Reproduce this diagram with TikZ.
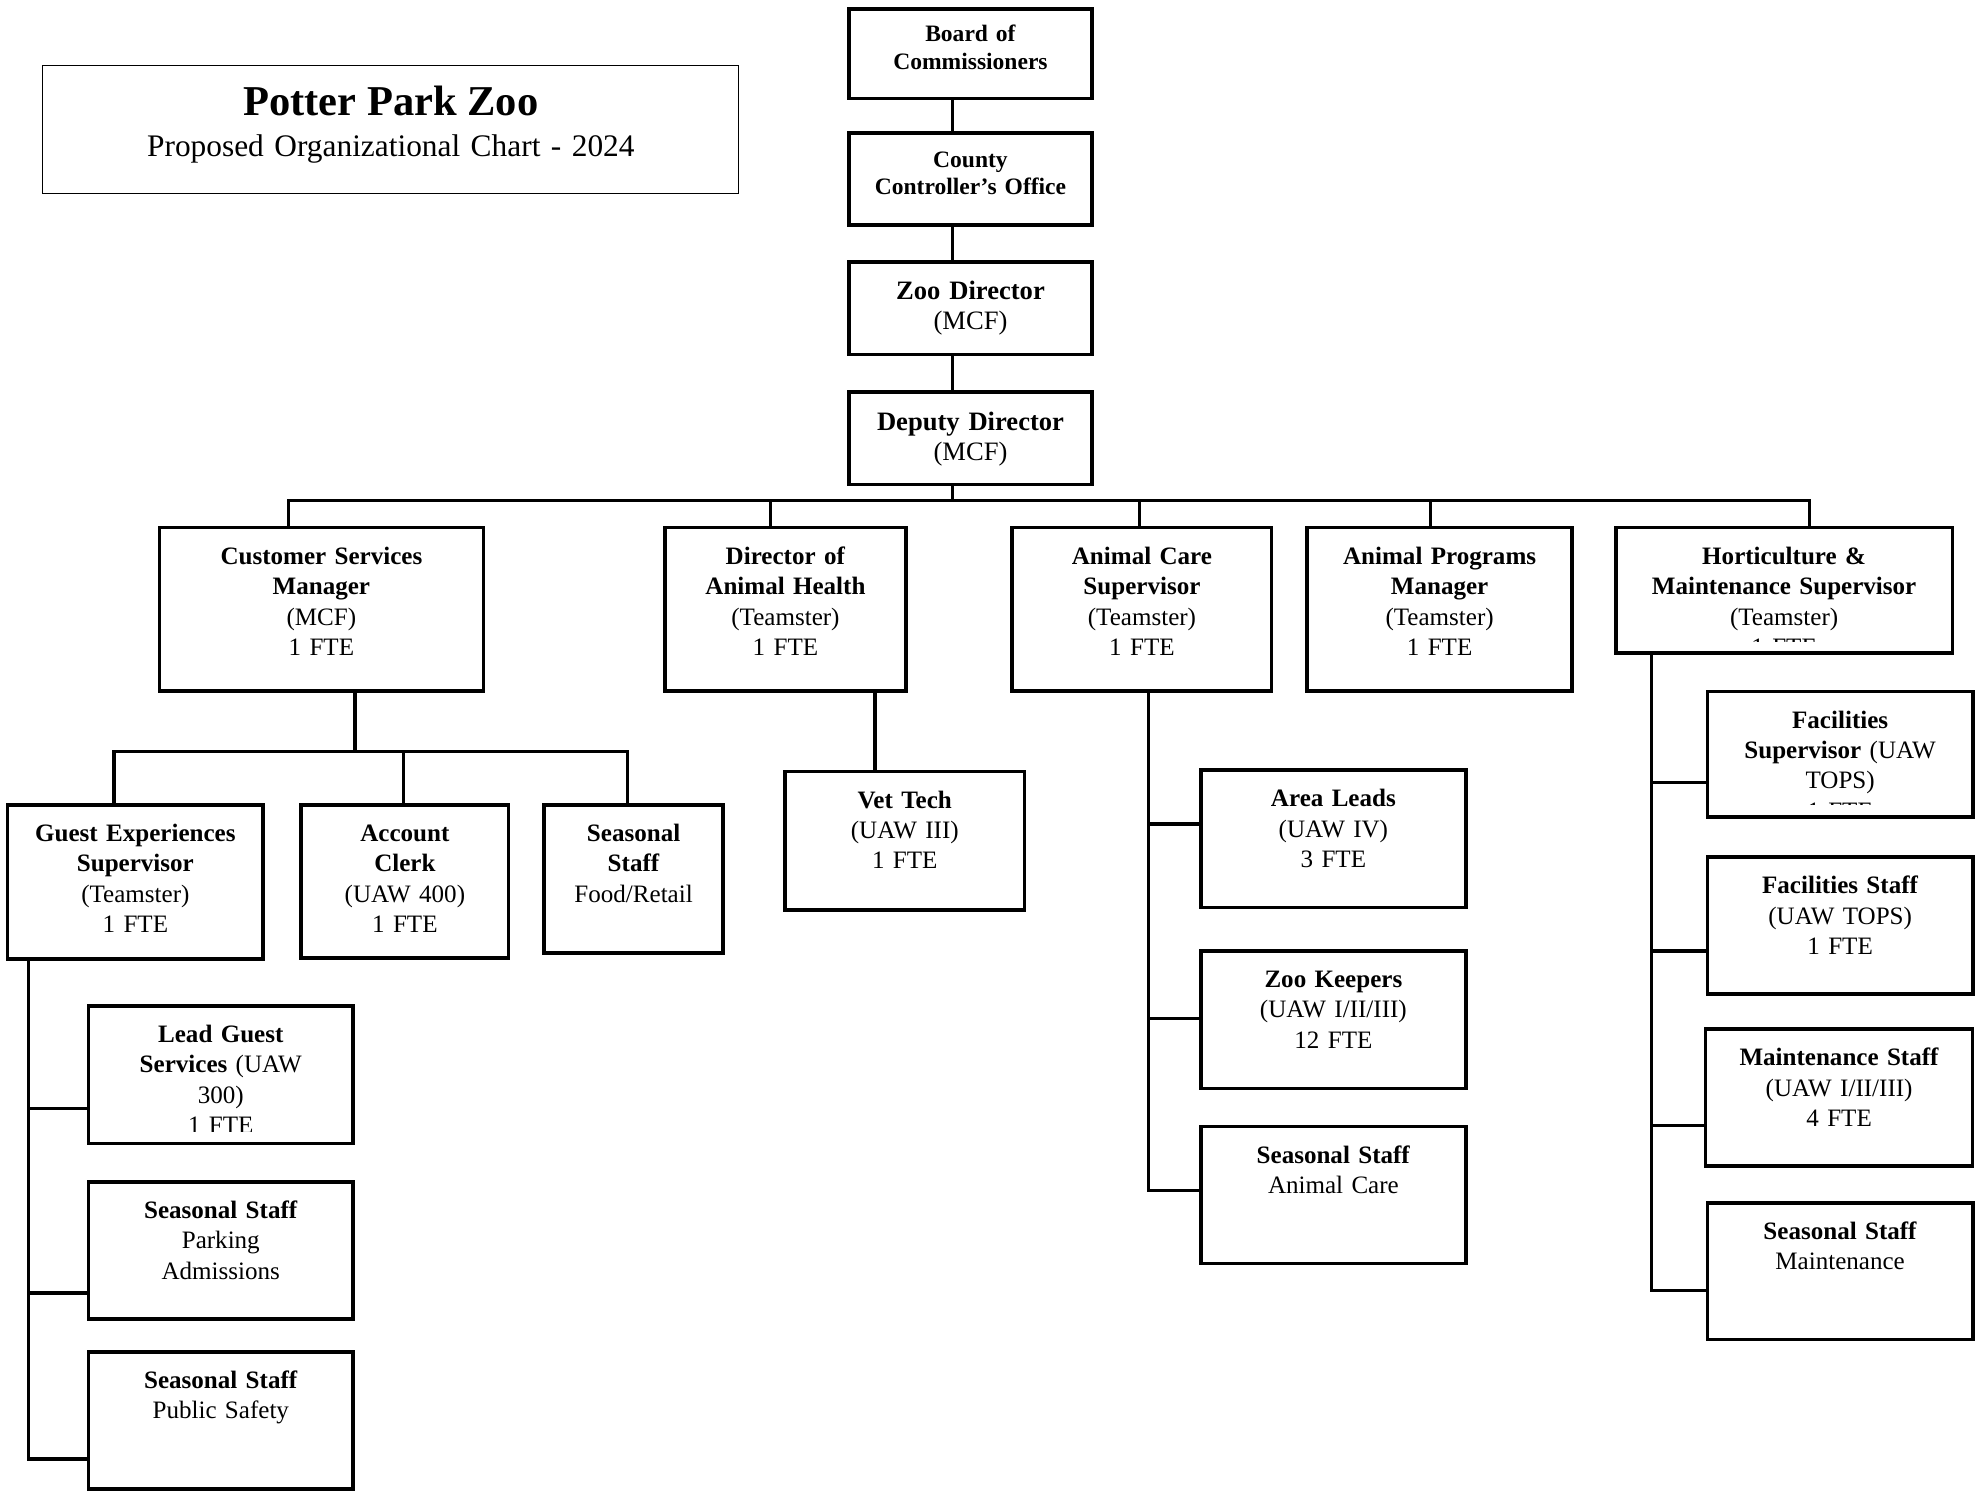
\documentclass[tikz,border=0pt]{standalone}
\usepackage{fontspec}
\setmainfont{Liberation Serif}
\usetikzlibrary{positioning}
\newcommand{\orgfont}{\fontsize{9.9}{12}\selectfont}
\newcommand{\topfont}{\fontsize{9.3}{11}\selectfont}
\newcommand{\dirfont}{\fontsize{10.5}{11.8}\selectfont}

\begin{document}
\begin{tikzpicture}[x=0.5pt, y=-0.5pt,
    box/.style={draw, line width=1.4pt, inner sep=0pt, outer sep=0pt,
      anchor=north west, align=center, text height=14.5pt, font=\orgfont},
    staff/.style={box, text width=105pt, text depth=39.8pt},
    frame/.style={line width=1.4pt},
    conn/.style={line width=1.3pt},
    node distance=14.5pt
  ]
  \useasboundingbox (0,0) rectangle (1568,1178);

  \node[draw, line width=0.4pt, inner sep=0pt, anchor=north west, align=center,
    text width=275pt, text height=19.75pt, text depth=30.75pt,
    font=\fontsize{12.4}{16}\selectfont] (title) at (33.5,51.5)
    {{\fontsize{16.8}{16}\selectfont\bfseries Potter Park Zoo}\\Proposed Organizational Chart - 2024};

  \node[box, text width=96pt, text height=13pt, text depth=22.5pt, font=\topfont] (board) at (671,7)
    {\textbf{Board of}\\\textbf{Commissioners}};
  \node[box, below=13.5pt of board, text width=96pt, text height=13.5pt, text depth=23pt, font=\topfont] (county)
    {\textbf{County}\\\textbf{Controller’s Office}};
  \node[box, below=of county, text width=96pt, text height=15pt, text depth=21.5pt, font=\dirfont] (zoo)
    {\textbf{Zoo Director}\\(MCF)};
  \node[box, below=15pt of zoo, text width=96pt, text height=15pt, text depth=21.5pt, font=\dirfont] (dep)
    {\textbf{Deputy Director}\\(MCF)};

  \node[box, text width=128pt, text depth=50pt] (csm) at (126,417)
    {\textbf{Customer Services}\\\textbf{Manager}\\(MCF)\\1 FTE};
  \node[box, text width=95.25pt, text depth=50pt] (dah) at (525.5,417)
    {\textbf{Director of}\\\textbf{Animal Health}\\(Teamster)\\1 FTE};
  \node[box, text width=102.5pt, text depth=50pt] (acs) at (800,417)
    {\textbf{Animal Care}\\\textbf{Supervisor}\\(Teamster)\\1 FTE};
  \node[box, text width=104.75pt, text depth=50pt] (apm) at (1033,417)
    {\textbf{Animal Programs}\\\textbf{Manager}\\(Teamster)\\1 FTE};
  \begin{scope}
    \clip (1260,405) rectangle (1560,507);
    \node[box, text width=133pt, text depth=35pt] (hms) at (1277,417)
      {\textbf{Horticulture \&}\\\textbf{Maintenance Supervisor}\\(Teamster)\\1 FTE};
  \end{scope}
  \draw[frame] (hms.south west) rectangle (hms.north east);

  \node[box, text width=101pt, text depth=46.5pt] (ges) at (6,636)
    {\textbf{Guest Experiences}\\\textbf{Supervisor}\\(Teamster)\\1 FTE};
  \node[box, text width=82pt, text depth=46pt] (acl) at (238,636)
    {\textbf{Account}\\\textbf{Clerk}\\(UAW 400)\\1 FTE};
  \node[box, text width=70.75pt, text depth=44pt] (sfr) at (430,636)
    {\textbf{Seasonal}\\\textbf{Staff}\\Food/Retail};
  \node[box, text width=94.75pt, text depth=40.2pt] (vet) at (620.3,609.6)
    {\textbf{Vet Tech}\\(UAW III)\\1 FTE};

  \begin{scope}
    \clip (60,785) rectangle (290,894.5);
    \node[staff, text width=104.5pt] (lgs) at (70,795)
      {\textbf{Lead Guest}\\\textbf{Services} (UAW\\300)\\1 FTE};
  \end{scope}
  \draw[frame] (lgs.south west) rectangle (lgs.north east);
  \node[staff, text width=104.5pt] (spk) at (70,934)
    {\textbf{Seasonal Staff}\\Parking\\Admissions};
  \node[staff, text width=104.5pt] (sps) at (70,1068.3)
    {\textbf{Seasonal Staff}\\Public Safety};

  \node[staff, text width=104.8pt] (ald) at (949,608.5)
    {\textbf{Area Leads}\\(UAW IV)\\3 FTE};
  \node[staff, text width=104.8pt] (zkp) at (949,751.5)
    {\textbf{Zoo Keepers}\\(UAW I/II/III)\\12 FTE};
  \node[staff, text width=104.8pt, text depth=39.65pt] (sac) at (949,890.3)
    {\textbf{Seasonal Staff}\\Animal Care};

  \begin{scope}
    \clip (1340,535) rectangle (1570,636);
    \node[staff, text depth=35.15pt] (fsp) at (1349.3,546.4)
      {\textbf{Facilities}\\\textbf{Supervisor} (UAW\\TOPS)\\1 FTE};
  \end{scope}
  \draw[frame] (fsp.south west) rectangle (fsp.north east);
  \node[staff, text depth=39.55pt] (fst) at (1349.3,677.5)
    {\textbf{Facilities Staff}\\(UAW TOPS)\\1 FTE};
  \node[staff, text width=105.5pt, text depth=39.6pt] (mst) at (1348,813.2)
    {\textbf{Maintenance Staff}\\(UAW I/II/III)\\4 FTE};
  \node[staff, text depth=39.55pt] (ssm) at (1349.3,950.6)
    {\textbf{Seasonal Staff}\\Maintenance};

  \coordinate (bus) at (753,395.5);
  \coordinate (csbus) at (280.6,594);
  \foreach \a/\b in {board/county, county/zoo, zoo/dep}
    \draw[conn] (\a.south -| bus) -- (\b.north -| bus);
  \draw[conn] (dep.south -| bus) -- (bus);
  \foreach \n/\s in {csm/-13pt, dah/-6pt, acs/-1pt, apm/-3.5pt, hms/10pt}
    \draw[conn] (bus) -| ([xshift=\s]\n.north);
  \draw[conn] (csm.south -| csbus) -- (csbus);
  \foreach \n/\s in {ges/-8.5pt, acl/-0.5pt, sfr/-2.4pt}
    \draw[conn] (csbus) -| ([xshift=\s]\n.north);
  \draw[conn] ([xshift=35.4pt]dah.south) -- ([xshift=35.4pt]dah.south |- vet.north);
  \foreach \n/\s in {lgs/-13.35pt, spk/-16.8pt, sps/-15.2pt}
    \draw[conn] ([xshift=-42.25pt]ges.south) |- ([yshift=\s]\n.west);
  \foreach \n/\s in {ald/5.8pt, zkp/0.4pt, sac/1.7pt}
    \draw[conn] ([xshift=2.55pt]acs.south) |- ([yshift=\s]\n.west);
  \foreach \n/\s in {fsp/-11.3pt, fst/-10pt, mst/-11.15pt, ssm/-7.7pt}
    \draw[conn] ([xshift=-52.5pt]hms.south) |- ([yshift=\s]\n.west);
\end{tikzpicture}
\end{document}
